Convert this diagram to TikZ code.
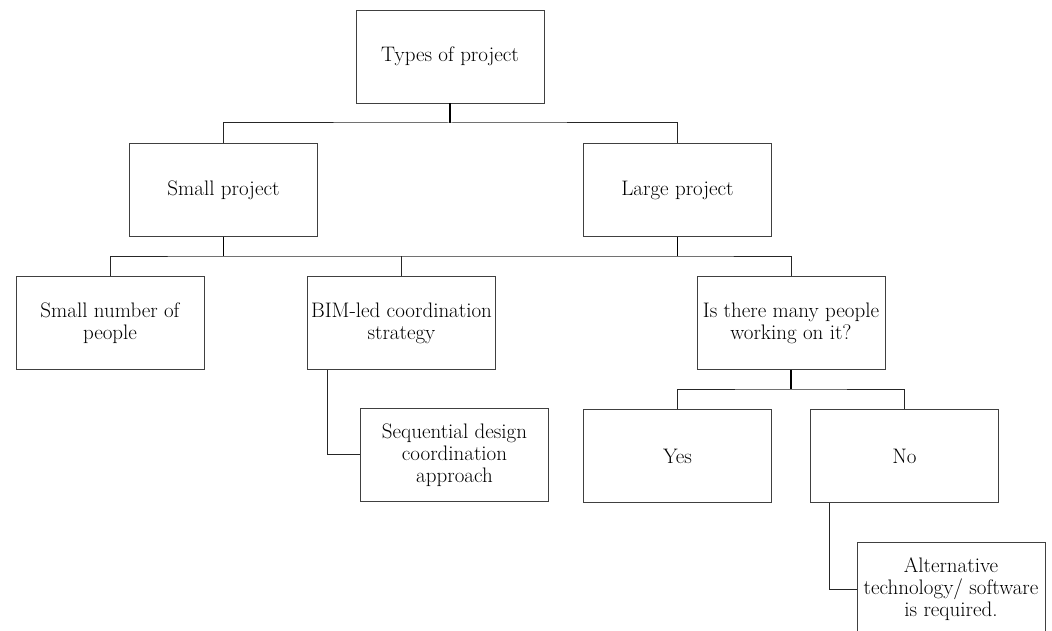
\documentclass[tikz,border=0pt]{standalone}
\begin{document}
\begin{tikzpicture}[x=1pt,y=-1pt,
  box/.style={draw=black!75,line width=0.9pt,minimum width=188pt,minimum height=93pt,
    align=center,inner sep=1pt,font=\fontsize{21}{22}\selectfont,text=black},
  conn/.style={draw=black!85,line width=1pt},
  stem/.style={draw=black,line width=1.4pt}]
\useasboundingbox (0,0) rectangle (1052,631);
\clip (0,0) rectangle (1052,631);
\node[box] (types) at (450,56.5) {Types of project};
\node[box] (small) at (223.5,190) {Small project};
\node[box] (large) at (677.5,190) {Large project};
\node[box] (few) at (110,323) {Small number of\\people};
\node[box] (bim) at (401.5,323) {BIM-led coordination\\strategy};
\node[box] (many) at (791,323) {Is there many people\\working on it?};
\node[box] (seq) at (454.5,455) {Sequential design\\coordination\\approach};
\node[box] (yes) at (677.5,456) {Yes};
\node[box] (no) at (904.5,456) {No};
\node[box] (alt) at (951,589) {Alternative\\technology/ software\\is required.};
\coordinate (j1) at (450,123);
\coordinate (j2) at (223.5,256);
\coordinate (j3) at (677.5,256);
\coordinate (j4) at (791,389);
\coordinate (b1) at (327,454.5);
\coordinate (b2) at (829,589);
\draw[stem] (types.south) -- (j1);
\draw[conn] (small.north) |- (j1) -| (large.north);
\draw[stem] (small.south) -- (j2);
\draw[stem] (large.south) -- (j3);
\draw[conn] (few.north) |- (j2) -- (j3) -| (many.north);
\draw[conn] (bim.north) -- (bim.north |- j2);
\draw[stem] (many.south) -- (j4);
\draw[conn] (yes.north) |- (j4) -| (no.north);
\draw[conn] (bim.south -| b1) -- (b1) -- (seq.west |- b1);
\draw[conn] (no.south -| b2) -- (b2) -- (alt.west |- b2);
\end{tikzpicture}
\end{document}
